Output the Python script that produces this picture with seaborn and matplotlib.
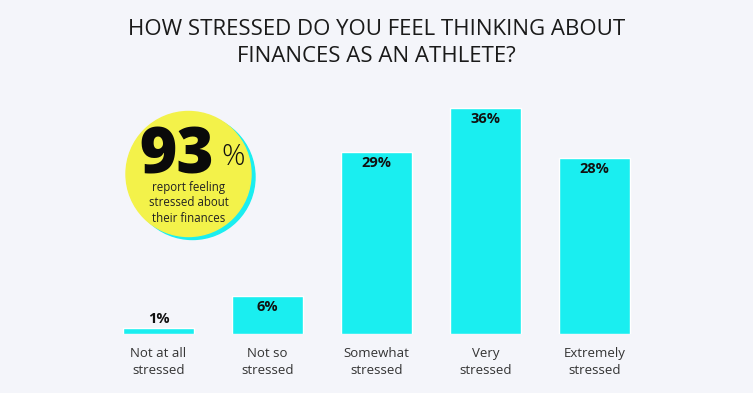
import matplotlib
matplotlib.use('Agg')
import pandas as pd
import matplotlib.pyplot as plt
import seaborn as sns
from matplotlib.patches import Circle

# данные с картинки
categories = ['Not at all\nstressed', 'Not so\nstressed', 'Somewhat\nstressed',
              'Very\nstressed', 'Extremely\nstressed']
values = [1, 6, 29, 36, 28]
value_labels = ['1%', '6%', '29%', '36%', '28%']
title_text = 'HOW STRESSED DO YOU FEEL THINKING ABOUT\nFINANCES AS AN ATHLETE?'
big_number = '93'
circle_text = 'report feeling\nstressed about\ntheir finances'

bg = '#F4F5FA'
cyan = '#1AEEF0'
yellow = '#F3F24A'

sns.set_style('white')
plt.rcParams['font.family'] = ['Open Sans', 'DejaVu Sans']

df = pd.DataFrame({'cat': categories, 'val': values})

fig = plt.figure(figsize=(7.53, 3.93), dpi=100, facecolor=bg)
ax = fig.add_axes([0.1381, 0.1501, 0.7238, 0.6392])
ax.set_facecolor(bg)
sns.barplot(data=df, x='cat', y='val', color=cyan, saturation=1, width=0.645, ax=ax)
ax.set_xlim(-0.5, 4.5)
ax.set_ylim(0, 40)
for s in ax.spines.values():
    s.set_visible(False)
ax.set_yticks([])
ax.set_xlabel('')
ax.set_ylabel('')
ax.tick_params(axis='x', length=0, pad=9, labelsize=9.5, labelcolor='#333333')
for t in ax.get_xticklabels():
    t.set_linespacing(1.45)

# подписи значений: внутри столбца, у маленького - сверху
for i, (v, lab) in enumerate(zip(values, value_labels)):
    if v < 3:
        ax.text(i, v + 1.4, lab, ha='center', va='center', fontsize=10.5,
                fontweight='bold', color='#111111')
    else:
        ax.text(i, v - 1.7, lab, ha='center', va='center', fontsize=10.5,
                fontweight='bold', color='#111111')

# заголовок
fig.text(0.5, 1 - 43 / 393, title_text, ha='center', va='center', fontsize=16,
         color='#1a1a1a', linespacing=1.4)

# кружок с 93%
ov = fig.add_axes([0, 0, 1, 1])
ov.set_xlim(0, 753)
ov.set_ylim(393, 0)
ov.axis('off')
ov.patch.set_alpha(0)
ov.add_patch(Circle((192.5, 177), 62.5, color=cyan, zorder=1))
ov.add_patch(Circle((188.5, 174), 62.5, color=yellow, zorder=2))
ov.text(176.5, 174, big_number, ha='center', va='baseline', fontsize=46,
        fontweight='black', color='#0a0a0a', zorder=3)
ov.text(233.5, 157, '%', ha='center', va='center', fontsize=21, color='#111111',
        fontweight='light', zorder=3)
ov.text(189, 203, circle_text, ha='center', va='center', fontsize=8.3,
        color='#222222', linespacing=1.25, zorder=3)

fig.savefig('out.png', dpi=100, facecolor=bg)
